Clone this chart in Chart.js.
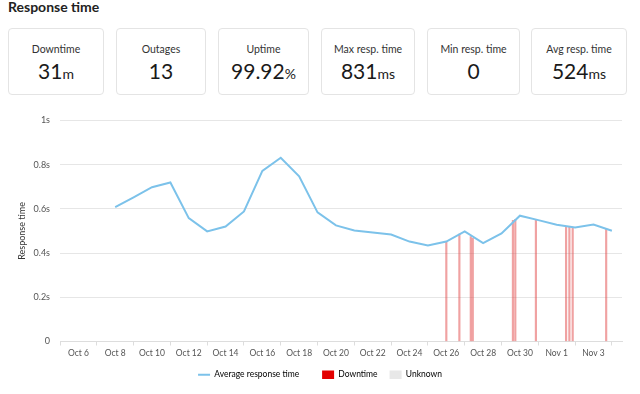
<!DOCTYPE html>
<html>
<head>
<meta charset="utf-8">
<script src="https://cdn.jsdelivr.net/npm/chart.js@4/dist/chart.umd.min.js"></script>
<style>
  body { margin: 0; width: 640px; height: 394px; background: #fff; font-family: Lato, "Open Sans", sans-serif; position: relative; overflow: hidden; }
  h1 { position: absolute; left: 8px; top: -2px; margin: 0; font-size: 14px; font-weight: 700; color: #222; }
  .card { position: absolute; top: 28px; height: 67px; border: 1px solid #e4e4e4; border-radius: 4px; box-sizing: border-box; text-align: center; color: #1a1a1a; }
  .card .lbl { margin-top: 14px; font-size: 10.5px; color: #333; }
  .card .val { margin-top: 4px; font-size: 21px; line-height: 23px; }
  .card .val small { font-size: 14px; }
  #wrap { position: absolute; left: 0; top: 105px; width: 640px; height: 284px; }
</style>
</head>
<body>
<h1>Response time</h1>
<div class="card" style="left:8px;width:96px"><div class="lbl">Downtime</div><div class="val">31<small>m</small></div></div>
<div class="card" style="left:116px;width:90px"><div class="lbl">Outages</div><div class="val">13</div></div>
<div class="card" style="left:218px;width:91px"><div class="lbl">Uptime</div><div class="val">99.92<small>%</small></div></div>
<div class="card" style="left:321px;width:94px"><div class="lbl">Max resp. time</div><div class="val">831<small>ms</small></div></div>
<div class="card" style="left:427px;width:93px"><div class="lbl">Min resp. time</div><div class="val">0</div></div>
<div class="card" style="left:531px;width:96px"><div class="lbl">Avg resp. time</div><div class="val">524<small>ms</small></div></div>
<div id="wrap"><canvas id="myChart"></canvas></div>
<script>
// dias contados desde el 1 de octubre (Nov 1 = 32)
const days = [8, 9, 10, 11, 12, 13, 14, 15, 16, 17, 18, 19, 20, 21, 22, 23, 24, 25, 26, 27, 28, 29, 30, 31, 32, 33, 34, 35];
const avgResponse = [0.608, 0.652, 0.698, 0.719, 0.558, 0.498, 0.520, 0.588, 0.772, 0.831, 0.747, 0.584, 0.525, 0.502, 0.493, 0.484, 0.452, 0.434, 0.452, 0.498, 0.445, 0.489, 0.569, 0.549, 0.528, 0.516, 0.529, 0.501];

// caidas: momento (dia) y altura de la marca
const downDays = [26.0, 26.71, 27.33, 27.44, 29.62, 29.75, 30.87, 32.51, 32.69, 32.87, 34.69];
const downValues = [0.452, 0.486, 0.475, 0.467, 0.548, 0.552, 0.548, 0.520, 0.516, 0.513, 0.508];

const tickDays = [6, 8, 10, 12, 14, 16, 18, 20, 22, 24, 26, 28, 30, 32, 34];
const tickLabels = ["Oct 6", "Oct 8", "Oct 10", "Oct 12", "Oct 14", "Oct 16", "Oct 18", "Oct 20", "Oct 22", "Oct 24", "Oct 26", "Oct 28", "Oct 30", "Nov 1", "Nov 3"];

const ctx = document.getElementById("myChart").getContext("2d");
const myChart = new Chart(ctx, {
  type: "line",
  data: {
    datasets: [
      {
        type: "line",
        label: "Average response time",
        data: days.map((d, i) => ({ x: d, y: avgResponse[i] })),
        borderColor: "#7cc2ea",
        backgroundColor: "#7cc2ea",
        borderWidth: 2,
        pointRadius: 0,
        tension: 0,
        order: 0,
      },
      {
        type: "bar",
        label: "Downtime",
        data: downDays.map((d, i) => ({ x: d, y: downValues[i] })),
        backgroundColor: "rgba(225, 70, 70, 0.5)",
        barThickness: 1.5,
        grouped: false,
        order: 1,
      },
      {
        type: "bar",
        label: "Unknown",
        data: [],
        backgroundColor: "#e6e6e6",
        order: 2,
      },
    ],
  },
  options: {
    responsive: true,
    maintainAspectRatio: false,
    animation: false,
    layout: { padding: { top: 8, right: 18, left: 18 } },
    scales: {
      x: {
        type: "linear",
        offset: false,
        min: 5,
        max: 35.55,
        afterBuildTicks: (scale) => {
          scale.ticks = tickDays.map((v) => ({ value: v }));
        },
        afterFit: (scale) => { scale.height = 17; },
        ticks: {
          autoSkip: false,
          maxRotation: 0,
          color: "#555",
          font: { family: "Lato", size: 8.5 },
          padding: 3,
          callback: (v) => tickLabels[tickDays.indexOf(v)],
        },
        grid: { drawOnChartArea: false, drawTicks: true, tickLength: 4, color: "#ddd" },
        border: { color: "#ddd" },
      },
      y: {
        min: 0,
        max: 1,
        afterFit: (scale) => { scale.width = 42; },
        ticks: {
          stepSize: 0.2,
          color: "#555",
          font: { family: "Lato", size: 9 },
          padding: 10,
          callback: (v) => {
            const r = Math.round(v * 10) / 10;
            return r === 0 ? "0" : r + "s";
          },
        },
        grid: { color: "#e6e6e6", drawTicks: false },
        border: { display: false },
        title: { display: true, text: "Response time", color: "#333", font: { family: "Lato", size: 9 }, padding: { top: -1, bottom: 0 } },
      },
    },
    plugins: {
      legend: {
        position: "bottom",
        labels: {
          usePointStyle: true,
          pointStyleWidth: 12,
          boxHeight: 9,
          padding: 12,
          color: "#666",
          font: { family: "Lato", size: 8.5 },
          generateLabels: (chart) => [
            { text: "Average response time     ", pointStyle: "line", strokeStyle: "#7cc2ea", fillStyle: "#7cc2ea", lineWidth: 2, datasetIndex: 0 },
            { text: "Downtime", pointStyle: "rect", fillStyle: "#e30000", strokeStyle: "#e30000", lineWidth: 0, datasetIndex: 1 },
            { text: "Unknown", pointStyle: "rect", fillStyle: "#e8e8e8", strokeStyle: "#e8e8e8", lineWidth: 0, datasetIndex: 2 },
          ],
        },
      },
      tooltip: { enabled: false },
    },
  },
});
</script>
</body>
</html>
